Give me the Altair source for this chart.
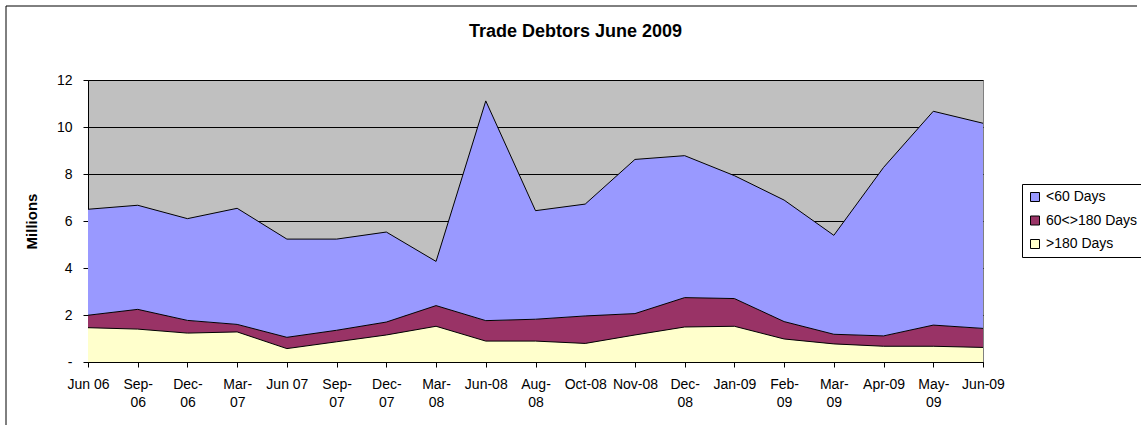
import altair as alt
import pandas as pd

categories = ["Jun 06", "Sep-06", "Dec-06", "Mar-07", "Jun 07", "Sep-07", "Dec-07",
              "Mar-08", "Jun-08", "Aug-08", "Oct-08", "Nov-08", "Dec-08", "Jan-09",
              "Feb-09", "Mar-09", "Apr-09", "May-09", "Jun-09"]
tick_labels = ["Jun 06", "Sep-\n06", "Dec-\n06", "Mar-\n07", "Jun 07", "Sep-\n07", "Dec-\n07",
               "Mar-\n08", "Jun-08", "Aug-\n08", "Oct-08", "Nov-08", "Dec-\n08", "Jan-09",
               "Feb-\n09", "Mar-\n09", "Apr-09", "May-\n09", "Jun-09"]

under_60 = [4.51, 4.43, 4.33, 4.94, 4.18, 3.88, 3.83, 1.88, 9.35, 4.62,
            4.76, 6.56, 6.04, 5.23, 5.17, 4.21, 7.17, 9.10, 8.73]
days_60_180 = [0.53, 0.84, 0.54, 0.32, 0.48, 0.49, 0.55, 0.88, 0.87, 0.93,
               1.17, 0.91, 1.25, 1.18, 0.74, 0.41, 0.44, 0.90, 0.81]
over_180 = [1.46, 1.40, 1.23, 1.28, 0.57, 0.86, 1.15, 1.52, 0.89, 0.89,
            0.79, 1.15, 1.49, 1.52, 0.98, 0.77, 0.67, 0.67, 0.62]

series_names = ["<60 Days", "60<>180 Days", ">180 Days"]
series_colors = ["#9999FF", "#993366", "#FFFFCC"]
y_ticks = [0, 2, 4, 6, 8, 10, 12]
chart_title = "Trade Debtors June 2009"

rows = []
for rank, (name, vals) in enumerate([(">180 Days", over_180),
                                     ("60<>180 Days", days_60_180),
                                     ("<60 Days", under_60)]):
    for cat, lab, v in zip(categories, tick_labels, vals):
        rows.append({"cat": cat, "label": lab, "series": name, "value": v, "rank": rank})
df = pd.DataFrame(rows)

x_enc = alt.X(
    "label:O", sort=tick_labels,
    scale=alt.Scale(type="point", padding=0),
    axis=alt.Axis(
        title=None, labelAngle=0, labelExpr="split(datum.label, '\\n')",
        labelLineHeight=18, labelPadding=10, tickSize=5, tickColor="black",
        domainColor="black", labelFontSize=14, labelColor="black",
        labelOverlap=False, labelFont="Liberation Sans",
    ),
)

base = alt.Chart(df).transform_stack(
    stack="value", groupby=["label"], as_=["y0", "y1"],
    sort=[alt.SortField("rank", order="ascending")],
)

area = base.mark_area(opacity=1).encode(
    x=x_enc,
    y=alt.Y(
        "y1:Q",
        scale=alt.Scale(domain=[0, 12], nice=False),
        axis=alt.Axis(
            values=y_ticks, title="Millions", titleFontSize=15, titleFontWeight="bold",
            titleColor="black", titleX=-57, titleY=141, titleAngle=270,
            titleAlign="center", titleBaseline="middle", titleFont="Liberation Sans",
            labelExpr="datum.value == 0 ? '-\u00a0\u00a0\u00a0\u00a0' : datum.label",
            grid=True, gridColor="black", gridWidth=1, domainColor="black",
            tickColor="black", tickSize=5, labelPadding=11, labelFontSize=14,
            labelColor="black", labelFont="Liberation Sans",
        ),
    ),
    y2="y0:Q",
    color=alt.Color(
        "series:N",
        scale=alt.Scale(domain=series_names, range=series_colors),
        legend=alt.Legend(
            title=None, orient="none", legendX=934, legendY=104,
            strokeColor="black", fillColor="white", padding=6,
            symbolType="square", symbolSize=81, symbolStrokeColor="black",
            symbolStrokeWidth=1, symbolOpacity=1, labelFontSize=14,
            labelFont="Liberation Sans", labelColor="black", labelOffset=4,
            rowPadding=9.5,
        ),
    ),
)

lines = base.mark_line(color="black", strokeWidth=1).encode(
    x=x_enc,
    y=alt.Y("y1:Q"),
    detail="series:N",
)

one = pd.DataFrame({"t": [chart_title]})

frame_left = alt.Chart(one).mark_rule(color="black", strokeWidth=1).encode(
    x=alt.value(-82), y=alt.value(-74), y2=alt.value(360)
)
frame_top = alt.Chart(one).mark_rule(color="black", strokeWidth=1).encode(
    x=alt.value(-82), x2=alt.value(1049), y=alt.value(-74)
)

title = alt.Chart(one).mark_text(
    fontSize=18, fontWeight="bold", font="Liberation Sans", color="black",
    align="center", baseline="alphabetic",
).encode(
    text="t:N", x=alt.value(487.5), y=alt.value(-43)
)

chart = alt.layer(frame_left, frame_top, area, lines, title).properties(
    width=895, height=282,
    autosize=alt.AutoSizeParams(type="none"),
    padding={"left": 88, "top": 80, "right": 158, "bottom": 63},
).configure(
    font="Liberation Sans", background="white",
).configure_view(
    fill="#C0C0C0", stroke="#808080", strokeWidth=1,
)

chart.save("out.html", embed_options={"renderer": "svg", "actions": False})
